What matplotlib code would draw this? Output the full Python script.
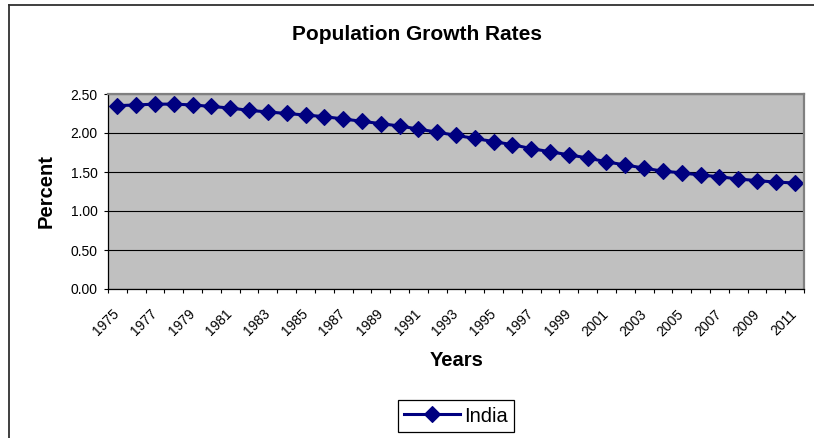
import matplotlib.pyplot as plt
from matplotlib.lines import Line2D

plt.rcParams['font.family'] = ['Liberation Sans', 'DejaVu Sans']

# data
years = list(range(1975, 2012))
growth = [2.35, 2.36, 2.37, 2.37, 2.36, 2.34, 2.32, 2.29, 2.27, 2.25,
          2.23, 2.21, 2.18, 2.15, 2.12, 2.09, 2.05, 2.01, 1.97, 1.93,
          1.89, 1.85, 1.80, 1.76, 1.72, 1.68, 1.63, 1.59, 1.55, 1.51,
          1.49, 1.46, 1.44, 1.41, 1.39, 1.37, 1.36]
y_ticks = [0.0, 0.5, 1.0, 1.5, 2.0, 2.5]
series_name = 'India'

W, H = 814, 438
fig = plt.figure(figsize=(W / 100, H / 100), dpi=100)

# outer chart frame (runs off the right and bottom edge)
fig.add_artist(Line2D([9 / W, 9 / W], [0, 1 - 5 / H], transform=fig.transFigure,
                      color='#303030', lw=1.3))
fig.add_artist(Line2D([9 / W, 1], [1 - 5 / H, 1 - 5 / H], transform=fig.transFigure,
                      color='#303030', lw=1.3))

ax = fig.add_axes([108 / W, 1 - 289 / H, (804 - 108) / W, (289 - 94) / H])
ax.set_facecolor('#C0C0C0')

x = list(range(len(years)))
ax.plot(x, growth, color='#000080', lw=2.2, marker='D', ms=7.8, mec='#000080',
        mew=0.8, label=series_name)

ax.set_xlim(-0.5, len(years) - 0.5)
ax.set_ylim(0, 2.5)

ax.set_yticks(y_ticks)
ax.set_yticklabels(['%.2f' % v for v in y_ticks])
ax.grid(axis='y', color='black', lw=0.8)
ax.set_axisbelow(True)

ax.set_xticks(x[::2])
ax.set_xticklabels([str(y) for y in years[::2]])
ax.set_xticks([i - 0.5 for i in range(len(years) + 1)], minor=True)
ax.tick_params(axis='x', which='major', length=0, pad=16.5, labelsize=10)
ax.tick_params(axis='x', which='minor', length=3, width=0.8, color='black')
ax.tick_params(axis='y', length=3, width=0.8, pad=4.3, labelsize=10)
for lab in ax.get_xticklabels():
    lab.set_rotation(45)
    lab.set_ha('right')
    lab.set_va('center')
    lab.set_rotation_mode('anchor')

for s in ['left', 'bottom']:
    ax.spines[s].set_color('black')
    ax.spines[s].set_linewidth(0.9)
for s in ['top', 'right']:
    ax.spines[s].set_color('#808080')
    ax.spines[s].set_linewidth(1.6)

ax.set_ylabel('Percent', fontsize=14.5, fontweight='bold', va='center')
ax.yaxis.set_label_coords(-0.089, 0.5)
ax.set_xlabel('Years', fontsize=14.5, fontweight='bold', va='baseline')
ax.xaxis.set_label_coords(0.501, -0.395)

fig.text(416.5 / W, 1 - 40 / H, 'Population Growth Rates', ha='center',
         va='baseline', fontsize=15, fontweight='bold')

leg = ax.legend(loc='center', bbox_to_anchor=(456 / W, 1 - 416 / H),
                bbox_transform=fig.transFigure, fontsize=14.5, fancybox=False,
                edgecolor='black', framealpha=1, handlelength=2.8,
                handletextpad=0.2, borderpad=0.3)
leg.get_frame().set_linewidth(0.9)

fig.savefig('out.png', dpi=100)
